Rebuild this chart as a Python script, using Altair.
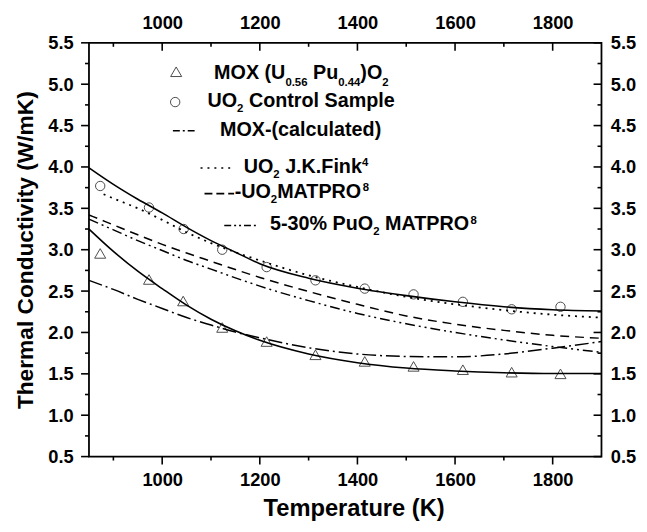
import altair as alt
import pandas as pd

# ---------------- data ----------------
T_GRID = [850, 900, 950, 1000, 1050, 1100, 1150, 1200, 1300, 1400, 1500, 1600, 1700, 1800, 1900]
UO2_FIT = [3.99, 3.79, 3.61, 3.445, 3.27, 3.11, 2.97, 2.83, 2.655, 2.535, 2.445, 2.37, 2.31, 2.275, 2.26]
MOX_FIT = [3.25, 2.98, 2.74, 2.53, 2.33, 2.16, 2.02, 1.905, 1.74, 1.635, 1.57, 1.535, 1.513, 1.503, 1.503]
MOX_CALC = [2.63, 2.52, 2.40, 2.29, 2.18, 2.09, 2.005, 1.935, 1.815, 1.74, 1.71, 1.705, 1.74, 1.81, 1.89]
MATPRO_UO2 = [3.42, 3.30, 3.18, 3.065, 2.96, 2.86, 2.76, 2.665, 2.495, 2.34, 2.20, 2.10, 2.025, 1.965, 1.93]
MATPRO_PUO2 = [3.37, 3.24, 3.11, 2.99, 2.87, 2.765, 2.66, 2.56, 2.385, 2.23, 2.105, 2.00, 1.91, 1.83, 1.76]

FINK_T = [880, 900, 950, 1000, 1050, 1100, 1150, 1200, 1300, 1400, 1500, 1600, 1700, 1800, 1900]
FINK_K = [3.67, 3.62, 3.50, 3.36, 3.21, 3.08, 2.97, 2.87, 2.69, 2.55, 2.43, 2.34, 2.27, 2.215, 2.18]

UO2_T = [873, 973, 1044, 1123, 1214, 1314, 1415, 1515, 1616, 1716, 1816]
UO2_K = [3.77, 3.51, 3.25, 3.00, 2.79, 2.63, 2.53, 2.46, 2.37, 2.28, 2.31]
MOX_T = [873, 973, 1043, 1123, 1214, 1314, 1415, 1515, 1616, 1716, 1816]
MOX_K = [2.955, 2.64, 2.38, 2.06, 1.89, 1.73, 1.65, 1.59, 1.55, 1.52, 1.50]

X_MAJOR = [1000, 1200, 1400, 1600, 1800]
X_MINOR = [900, 1100, 1300, 1500, 1700]
Y_MAJOR = [0.5, 1.0, 1.5, 2.0, 2.5, 3.0, 3.5, 4.0, 4.5, 5.0, 5.5]
Y_MINOR = [0.75, 1.25, 1.75, 2.25, 2.75, 3.25, 3.75, 4.25, 4.75, 5.25]

# ---------------- layout / style ----------------
W, H = 519, 419
FONT = "Liberation Sans"
BLACK = "black"

xscale = alt.Scale(domain=[850, 1900], nice=False, zero=False)
yscale = alt.Scale(domain=[0.5, 5.5], nice=False, zero=False)

bottom_axis = alt.Axis(orient="bottom", values=X_MAJOR, format="d", labelPadding=14,
                       title="Temperature (K)", titleFontSize=24, titleBaseline="alphabetic",
                       titleAlign="center", titleX=268, titleY=60)
left_axis = alt.Axis(orient="left", values=Y_MAJOR, format=".1f", labelPadding=16,
                     title="Thermal Conductivity (W/mK)", titleFontSize=23, titlePadding=10)
top_axis = alt.Axis(orient="top", values=X_MAJOR, format="d", labelPadding=11, title=None)
right_axis = alt.Axis(orient="right", values=Y_MAJOR, format=".1f", labelPadding=9, title=None)

X = alt.X("T:Q", scale=xscale, axis=bottom_axis)
Y = alt.Y("k:Q", scale=yscale, axis=left_axis)


def frame(ts, ks):
    return pd.DataFrame({"T": ts, "k": ks})


def curve(ks, dash=None, ts=T_GRID, width=1.6):
    kw = dict(color=BLACK, strokeWidth=width, interpolate="monotone")
    if dash:
        kw["strokeDash"] = dash
    return alt.Chart(frame(ts, ks)).mark_line(**kw).encode(x=X, y=Y)


layers = [
    curve(MATPRO_UO2, [9, 6], width=1.5),
    curve(MATPRO_PUO2, [10, 4, 2, 4, 2, 4], width=1.5),
    curve(MOX_CALC, [14, 4, 2, 4], width=1.5),
    curve(FINK_K, [2, 5], ts=FINK_T, width=1.8),
    curve(UO2_FIT),
    curve(MOX_FIT),
    alt.Chart(frame(UO2_T, UO2_K)).mark_point(shape="circle", size=90, filled=False,
                                               color=BLACK, strokeWidth=1).encode(x=X, y=Y),
    alt.Chart(frame(MOX_T, MOX_K)).mark_point(shape="triangle-up", size=125, filled=False,
                                               color=BLACK, strokeWidth=1).encode(x=X, y=Y),
]

# outward ticks on bottom and left
for vals, ln in ((X_MAJOR, 8), (X_MINOR, 4)):
    layers.append(alt.Chart(pd.DataFrame({"T": vals})).mark_rule(color=BLACK, strokeWidth=1.6)
                  .encode(x=X, y=alt.value(H), y2=alt.value(H + ln)))
for vals, ln in ((Y_MAJOR, 8), (Y_MINOR, 4)):
    layers.append(alt.Chart(pd.DataFrame({"k": vals})).mark_rule(color=BLACK, strokeWidth=1.6)
                  .encode(y=Y, x=alt.value(0), x2=alt.value(-ln)))

# ---------------- legend ----------------
CW = {' ': .278, '%': .889, '(': .333, ')': .333, '-': .333, '.': .278, '/': .278,
      'A': .722, 'C': .722, 'F': .611, 'J': .556, 'K': .722, 'M': .833, 'O': .778, 'P': .667,
      'R': .722, 'S': .667, 'T': .611, 'U': .722, 'X': .667,
      'a': .556, 'c': .556, 'd': .611, 'e': .556, 'i': .278, 'k': .556, 'l': .278, 'm': .889,
      'n': .611, 'o': .611, 'p': .611, 'r': .389, 't': .333, 'u': .611}


def text_w(s, size):
    return sum(CW.get(c, 0.556) for c in s) * size


MAIN_SIZE, SMALL_SIZE = 20, 11.5

LEGEND_ROWS = [
    (126.7, 36.7, 7, [("MOX (U", "n"), ("0.56", "sub"), (" Pu", "n"), ("0.44", "sub"), (")O", "n"), ("2", "sub")]),
    (120.0, 65.0, 5, [("UO", "n"), ("2", "sub"), (" Control Sample", "n")]),
    (132.7, 94.0, 5, [("MOX-(calculated)", "n")]),
    (156.7, 131.7, 5, [("UO", "n"), ("2", "sub"), (" J.K.Fink", "n"), ("4", "sup")]),
    (147.5, 156.7, 5, [("-UO", "n"), ("2", "sub"), ("MATPRO", "n"), ("8", "sup")]),
    (183.3, 190.0, 5, [("5-30% PuO", "n"), ("2", "sub"), (" MATPRO", "n"), ("8", "sup")]),
]

legend_layers = []
for x0, y0, sub_dy, parts in LEGEND_ROWS:
    x = x0
    for txt, kind in parts:
        size = MAIN_SIZE if kind == "n" else SMALL_SIZE
        dy = 0 if kind == "n" else (sub_dy if kind == "sub" else -7)
        lead = len(txt) - len(txt.lstrip(" "))
        x += text_w(" " * lead, size)
        body = txt.lstrip(" ")
        legend_layers.append(
            alt.Chart(alt.Data(values=[{}])).mark_text(
                text=body, font=FONT, fontSize=size, fontWeight="bold", align="left",
                baseline="alphabetic", color=BLACK
            ).encode(x=alt.value(x), y=alt.value(y0 + dy))
        )
        x += text_w(body, size)

legend_layers += [
    alt.Chart(alt.Data(values=[{}])).mark_point(shape="triangle-up", size=125, filled=False,
                                                 color=BLACK, strokeWidth=1)
    .encode(x=alt.value(88.3), y=alt.value(29.3)),
    alt.Chart(alt.Data(values=[{}])).mark_point(shape="circle", size=90, filled=False,
                                                 color=BLACK, strokeWidth=1)
    .encode(x=alt.value(87.3), y=alt.value(60)),
]
LEGEND_LINES = [
    (85, 108, 89, [7, 3, 2, 3]),
    (113, 148, 126.7, [2, 5]),
    (117, 147, 152.7, [8, 4]),
    (137, 170, 185, [7, 3, 2, 3, 2, 3]),
]
for xa, xb, yy, dash in LEGEND_LINES:
    legend_layers.append(
        alt.Chart(alt.Data(values=[{}])).mark_rule(color=BLACK, strokeWidth=1.6, strokeDash=dash)
        .encode(x=alt.value(xa), x2=alt.value(xb), y=alt.value(yy))
    )

main = alt.layer(*layers, *legend_layers)

# ---------------- mirrored top / right axes with inward ticks ----------------
top_major = alt.Chart(pd.DataFrame({"T": X_MAJOR})).mark_rule(color=BLACK, strokeWidth=1.6).encode(
    x=alt.X("T:Q", scale=xscale, axis=top_axis), y=alt.value(0), y2=alt.value(8))
top_minor = alt.Chart(pd.DataFrame({"T": X_MINOR})).mark_rule(color=BLACK, strokeWidth=1.6).encode(
    x=alt.X("T:Q", scale=xscale, axis=None), y=alt.value(0), y2=alt.value(4))
right_major = alt.Chart(pd.DataFrame({"k": Y_MAJOR})).mark_rule(color=BLACK, strokeWidth=1.6).encode(
    y=alt.Y("k:Q", scale=yscale, axis=right_axis), x=alt.value(W), x2=alt.value(W - 8))
right_minor = alt.Chart(pd.DataFrame({"k": Y_MINOR})).mark_rule(color=BLACK, strokeWidth=1.6).encode(
    y=alt.Y("k:Q", scale=yscale, axis=None), x=alt.value(W), x2=alt.value(W - 4))

chart = (
    alt.layer(main, top_major, top_minor, right_major, right_minor)
    .resolve_axis(x="independent", y="independent")
    .properties(
        width=W, height=H,
        autosize=alt.AutoSizeParams(type="none"),
        padding={"left": 82, "top": 32, "right": 38, "bottom": 65},
        background="white",
    )
    .configure_view(stroke=BLACK, strokeWidth=1.8)
    .configure_axis(
        grid=False, domain=False, ticks=False,
        labelFont=FONT, labelFontSize=18.5, labelFontWeight="bold", labelColor=BLACK,
        titleFont=FONT, titleFontWeight="bold", titleColor=BLACK,
    )
)

chart.save("out.html", embed_options={"renderer": "svg", "actions": False})
